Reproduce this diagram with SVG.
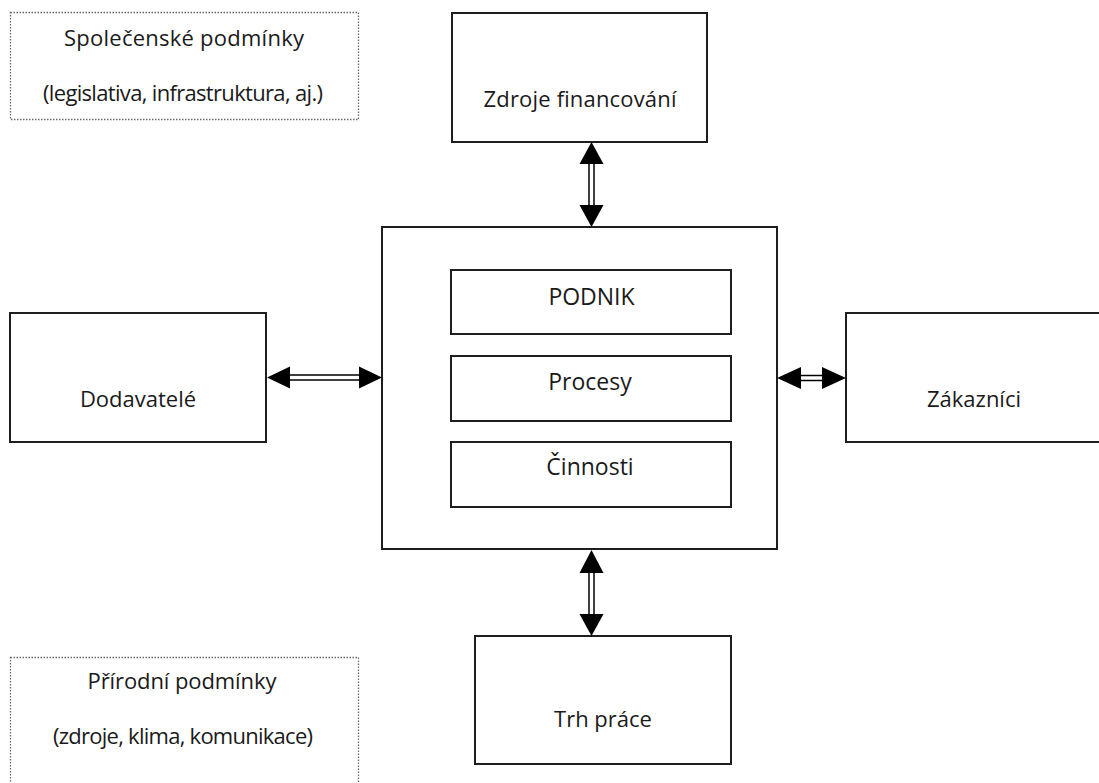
<svg xmlns="http://www.w3.org/2000/svg" width="1099" height="783" viewBox="0 0 1099 783">
  <style>
    .box { fill: #ffffff; stroke: #1e1e1e; stroke-width: 2; }
    .env { fill: #ffffff; stroke: #6a6a6a; stroke-width: 1.3; stroke-dasharray: 1.5 1.5; }
    .lbl { font-family: "Open Sans", Lato, "Liberation Sans", sans-serif; font-size: 22px; fill: #1a1a1a; text-anchor: middle; }
    .inner { font-size: 23px; }
    .shaft { fill: #ffffff; stroke: #000000; stroke-width: 1.5; }
    .head { fill: #000000; }
  </style>
  <rect width="1099" height="783" fill="#ffffff"/>

  <!-- environment boxes -->
  <g id="spolecenske">
    <rect class="env" x="10.5" y="12.5" width="348" height="107"/>
    <text class="lbl" x="184" y="46" textLength="240">Společenské podmínky</text>
    <text class="lbl" x="183" y="101" textLength="280">(legislativa, infrastruktura, aj.)</text>
  </g>
  <g id="prirodni">
    <rect class="env" x="10.5" y="657.5" width="348" height="140"/>
    <text class="lbl" x="182" y="689" textLength="189">Přírodní podmínky</text>
    <text class="lbl" x="183" y="744" textLength="260">(zdroje, klima, komunikace)</text>
  </g>

  <!-- surrounding actors -->
  <g id="zdroje">
    <rect class="box" x="452" y="13" width="255" height="129"/>
    <text class="lbl" x="580" y="107" textLength="193">Zdroje financování</text>
  </g>
  <g id="dodavatele">
    <rect class="box" x="10" y="313" width="256" height="129"/>
    <text class="lbl" x="138" y="407">Dodavatelé</text>
  </g>
  <g id="zakaznici">
    <rect class="box" x="846" y="313" width="260" height="129"/>
    <text class="lbl" x="974" y="407">Zákazníci</text>
  </g>
  <g id="trh-prace">
    <rect class="box" x="475" y="636" width="256" height="128"/>
    <text class="lbl" x="603" y="727">Trh práce</text>
  </g>

  <!-- the enterprise -->
  <g id="podnik">
    <rect class="box" x="382" y="227" width="395" height="322"/>
    <g id="podnik-nazev">
      <rect class="box" x="451" y="270" width="280" height="64"/>
      <text class="lbl inner" x="591.5" y="305">PODNIK</text>
    </g>
    <g id="procesy">
      <rect class="box" x="451" y="356" width="280" height="65"/>
      <text class="lbl inner" x="590" y="390">Procesy</text>
    </g>
    <g id="cinnosti">
      <rect class="box" x="451" y="442" width="280" height="65"/>
      <text class="lbl inner" x="590" y="475">Činnosti</text>
    </g>
  </g>

  <!-- two-headed hollow-shaft arrows -->
  <g id="connectors">
    <!-- top: financing -->
    <rect class="shaft" x="589" y="160" width="5" height="50"/>
    <polygon class="head" points="591.5,142 603.5,164 579.5,164"/>
    <polygon class="head" points="591.5,227 603.5,205 579.5,205"/>

    <!-- left: suppliers -->
    <rect class="shaft" x="285" y="375" width="80" height="5"/>
    <polygon class="head" points="267,377.5 290,366.5 290,388.5"/>
    <polygon class="head" points="382,377.5 359,366.5 359,388.5"/>

    <!-- right: customers -->
    <rect class="shaft" x="795" y="375.5" width="33" height="5"/>
    <polygon class="head" points="777,378 801,367 801,389"/>
    <polygon class="head" points="846,378 822,367 822,389"/>

    <!-- bottom: labour market -->
    <rect class="shaft" x="589" y="569" width="5" height="50"/>
    <polygon class="head" points="591.5,550 603.5,573 579.5,573"/>
    <polygon class="head" points="591.5,636 603.5,614 579.5,614"/>
  </g>
</svg>
